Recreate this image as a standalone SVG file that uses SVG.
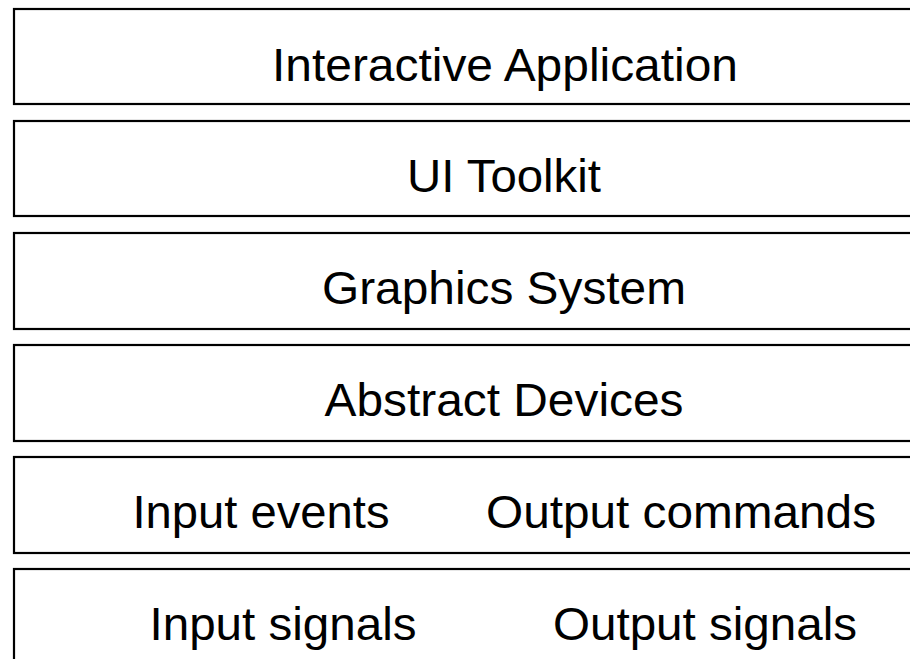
<svg xmlns="http://www.w3.org/2000/svg" width="910" height="659" viewBox="0 0 910 659">
  <style>
    .layer { fill: #ffffff; stroke: #000000; stroke-width: 2.2; }
    .label { font-family: "Liberation Sans", Arial, sans-serif; font-size: 46px; fill: #000000; text-anchor: middle; }
  </style>
  <rect x="0" y="0" width="910" height="659" fill="#ffffff"/>
  <g id="interactive-application">
    <rect class="layer" x="14" y="9" width="1000" height="95"/>
    <text class="label" x="505" y="81" textLength="466" lengthAdjust="spacingAndGlyphs">Interactive Application</text>
  </g>
  <g id="ui-toolkit">
    <rect class="layer" x="14" y="121" width="1000" height="95"/>
    <text class="label" x="504" y="192" textLength="194" lengthAdjust="spacingAndGlyphs">UI Toolkit</text>
  </g>
  <g id="graphics-system">
    <rect class="layer" x="14" y="233" width="1000" height="96"/>
    <text class="label" x="504" y="304" textLength="364" lengthAdjust="spacingAndGlyphs">Graphics System</text>
  </g>
  <g id="abstract-devices">
    <rect class="layer" x="14" y="345" width="1000" height="96"/>
    <text class="label" x="504" y="416" textLength="359" lengthAdjust="spacingAndGlyphs">Abstract Devices</text>
  </g>
  <g id="events-commands">
    <rect class="layer" x="14" y="457" width="1000" height="96"/>
    <text class="label" x="261" y="528" textLength="257" lengthAdjust="spacingAndGlyphs">Input events</text>
    <text class="label" x="681" y="528" textLength="390" lengthAdjust="spacingAndGlyphs">Output commands</text>
  </g>
  <g id="signals">
    <rect class="layer" x="14" y="569" width="1000" height="120"/>
    <text class="label" x="283" y="640" textLength="267" lengthAdjust="spacingAndGlyphs">Input signals</text>
    <text class="label" x="705" y="640" textLength="304" lengthAdjust="spacingAndGlyphs">Output signals</text>
  </g>
  <g id="connectors"/>
</svg>
